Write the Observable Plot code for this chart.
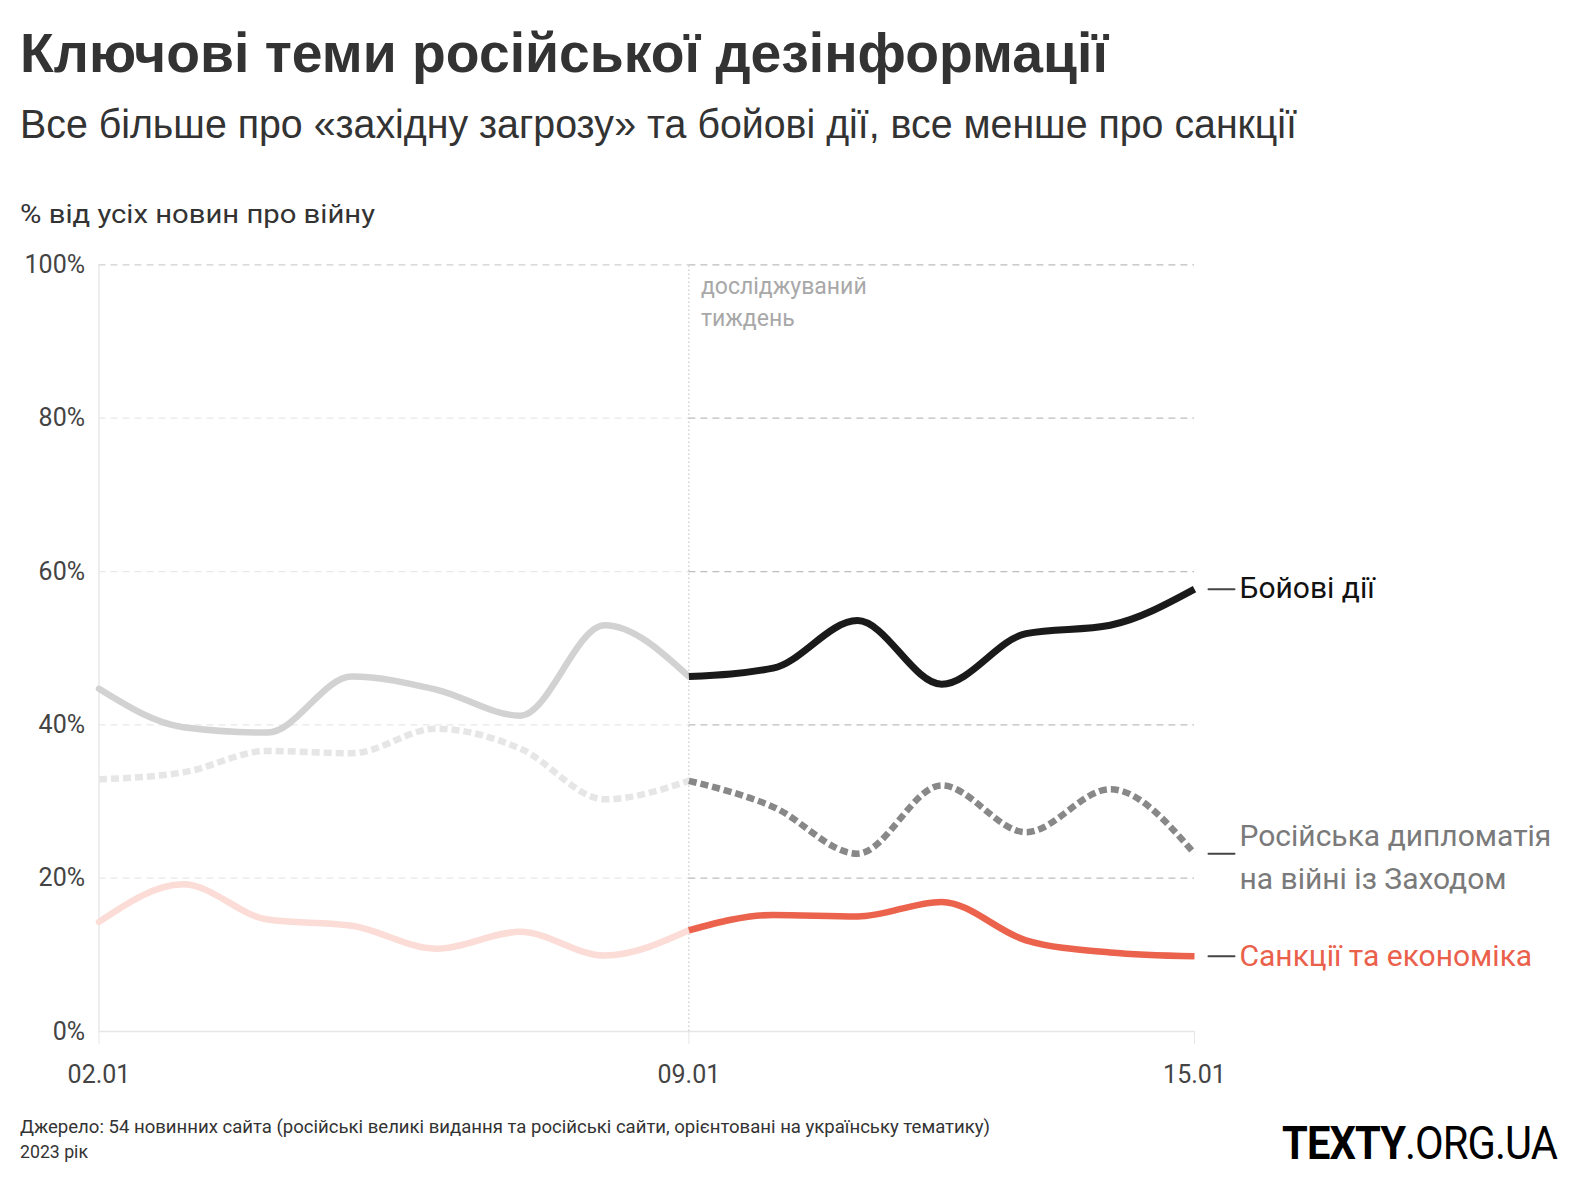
<!DOCTYPE html>
<html>
<head>
<meta charset="utf-8">
<script src="https://cdn.jsdelivr.net/npm/d3@7"></script>
<script src="https://cdn.jsdelivr.net/npm/@observablehq/plot@0.6"></script>
<style>
  html, body { margin: 0; padding: 0; background: #fff; }
  #page { position: relative; width: 1580px; height: 1184px; overflow: hidden; font-family: Roboto, "Noto Sans", sans-serif; }
  .t { position: absolute; left: 20px; white-space: nowrap; line-height: 1; transform-origin: 0 0; }
  #title { top: 25px; font-family: "Liberation Sans", Arial, sans-serif; font-size: 56px; font-weight: 700; color: #333; }
  #subtitle { top: 104px; font-family: "Liberation Sans", Arial, sans-serif; font-size: 41px; font-weight: 400; color: #333; }
  #ylabel { top: 201px; font-size: 26px; color: #333; }
  #src1 { top: 1118px; font-size: 18px; color: #333; }
  #src2 { top: 1143px; font-size: 18px; color: #333; }
  #logo { left: 1282px; top: 1120px; font-size: 46px; color: #000; letter-spacing: -1px; }
  #logo b { font-weight: 700; }
  #chart { position: absolute; left: 0; top: 230px; }
</style>
</head>
<body>
<div id="page">
  <div class="t" id="title">Ключові теми російської дезінформації</div>
  <div class="t" id="subtitle">Все більше про «західну загрозу» та бойові дії, все менше про санкції</div>
  <div class="t" id="ylabel">% від усіх новин про війну</div>
  <div id="chart"></div>
  <div class="t" id="src1">Джерело: 54 новинних сайта (російські великі видання та російські сайти, орієнтовані на українську тематику)</div>
  <div class="t" id="src2">2023 рік</div>
  <div class="t" id="logo"><b>TEXTY</b>.ORG.UA</div>
</div>
<script>
// ---- data ----
const dates = ["2023-01-02","2023-01-03","2023-01-04","2023-01-05","2023-01-06","2023-01-07","2023-01-08",
               "2023-01-09","2023-01-10","2023-01-11","2023-01-12","2023-01-13","2023-01-14","2023-01-15"];
const combat    = [44.7, 39.7, 39.0, 46.3, 44.6, 41.2, 53.0, 46.3, 47.4, 53.6, 45.3, 51.9, 53.0, 57.7];
const diplomacy = [32.9, 33.8, 36.6, 36.3, 39.5, 36.9, 30.3, 32.7, 29.3, 23.2, 32.1, 26.0, 31.6, 23.2];
const sanctions = [14.3, 19.2, 14.6, 13.8, 10.8, 13.0,  9.9, 13.2, 15.2, 15.0, 16.9, 11.9, 10.3,  9.8];
const studyStart = "2023-01-09";
const xTicks = ["2023-01-02", "2023-01-09", "2023-01-15"];
const yTicks = [0, 20, 40, 60, 80, 100];
const seriesNames = ["Бойові дії", "Російська дипломатія\nна війні із Заходом", "Санкції та економіка"];

// ---- build ----
const parse = d3.utcParse("%Y-%m-%d");
const D = dates.map(parse);
const d0 = D[0], dMid = parse(studyStart), dEnd = D[D.length - 1];
const rows = (vals, name) => vals.map((v, i) => ({date: D[i], value: v, series: name}));
const before = r => r.date <= dMid;
const after = r => r.date >= dMid;
const C = rows(combat, seriesNames[0]);
const P = rows(diplomacy, seriesNames[1]);
const S = rows(sanctions, seriesNames[2]);
const endC = C[C.length - 1], endP = P[P.length - 1], endS = S[S.length - 1];
const dashShape = {draw(context, l) { context.moveTo(0, 0); context.lineTo(0, -l); }};
const labelOpts = {x: "date", y: "value", text: "series", dx: 45, textAnchor: "start", lineAnchor: "middle", fontSize: 30, lineHeight: 1.42};

const plot = Plot.plot({
  width: 1580,
  height: 880,
  marginTop: 34.4,
  marginBottom: 79,
  marginLeft: 98.5,
  marginRight: 386,
  style: {fontFamily: "Roboto, 'Noto Sans', sans-serif", fontSize: "25px", color: "#444", background: "transparent"},
  x: {type: "utc", domain: [d0, dEnd], label: null},
  y: {domain: [0, 100], label: null},
  marks: [
    // grid lines: light in the earlier part, darker in the studied week
    Plot.ruleY(yTicks.filter(d => d > 0 && d < 100), {x1: () => d0, x2: () => dMid, stroke: "#e9e9e9", strokeDasharray: "7,5", strokeWidth: 1.3}),
    Plot.ruleY([100], {x1: () => d0, x2: () => dMid, stroke: "#d0d0d0", strokeDasharray: "7,5", strokeWidth: 1.3}),
    Plot.ruleY(yTicks.filter(d => d > 0), {x1: () => dMid, x2: () => dEnd, stroke: "#bdbdbd", strokeDasharray: "7,5", strokeWidth: 1.3}),
    Plot.ruleY([0], {stroke: "#e6e6e6", strokeWidth: 1.5}),
    Plot.ruleX([d0], {y1: 0, y2: 100, stroke: "#e8e8e8", strokeWidth: 1.5}),
    Plot.ruleX([dMid], {y1: 0, y2: 100, stroke: "#c8c8c8", strokeDasharray: "1.5,2.5", strokeWidth: 1.2}),
    Plot.axisX({ticks: xTicks.map(parse), tickFormat: d3.utcFormat("%d.%m"), tickSize: 13, tickPadding: 21, stroke: "#e6e6e6", fill: "#444", fontSize: 25, label: null}),
    Plot.axisY({ticks: yTicks, tickFormat: d => d + "%", tickSize: 0, tickPadding: 14, fill: "#444", fontSize: 25, label: null}),
    Plot.text([dMid], {x: d => d, y: () => 100, text: () => "досліджуваний\nтиждень", textAnchor: "start", lineAnchor: "top", dx: 12, dy: 6, fill: "#a8a8a8", fontSize: 23, lineHeight: 1.4}),
    // earlier period (faded)
    Plot.line(C.filter(before), {x: "date", y: "value", curve: "monotone-x", stroke: "#d2d2d2", strokeWidth: 6.5}),
    Plot.line(P.filter(before), {x: "date", y: "value", curve: "monotone-x", stroke: "#e6e6e6", strokeWidth: 6.5, strokeDasharray: "8,4", strokeLinecap: "butt"}),
    Plot.line(S.filter(before), {x: "date", y: "value", curve: "monotone-x", stroke: "#fbdcd6", strokeWidth: 6.5}),
    // studied week
    Plot.line(C.filter(after), {x: "date", y: "value", curve: "monotone-x", stroke: "#1a1a1a", strokeWidth: 7, strokeLinecap: "butt"}),
    Plot.line(P.filter(after), {x: "date", y: "value", curve: "monotone-x", stroke: "#888888", strokeWidth: 6.5, strokeDasharray: "8,4", strokeLinecap: "butt"}),
    Plot.line(S.filter(after), {x: "date", y: "value", curve: "monotone-x", stroke: "#ec634d", strokeWidth: 6.5, strokeLinecap: "butt"}),
    // end labels with leader dashes
    Plot.vector([endC, endP, endS], {x: "date", y: "value", length: 26, rotate: 90, anchor: "start", dx: 14, shape: dashShape, stroke: "#444", strokeWidth: 2}),
    Plot.text([endC], {...labelOpts, dy: -5, fill: "#111111"}),
    Plot.text([endP], {...labelOpts, dy: 0, fill: "#7a7a7a"}),
    Plot.text([endS], {...labelOpts, dy: -4, fill: "#ea604b"})
  ]
});
document.getElementById("chart").appendChild(plot);

// fit text widths to the reference layout
function fit(id, w) {
  const el = document.getElementById(id);
  const cw = el.getBoundingClientRect().width;
  el.style.transform = `scaleX(${w / cw})`;
}
fit("title", 1088);
fit("subtitle", 1277);
fit("ylabel", 355);
fit("src1", 970);
fit("src2", 68);
fit("logo", 275);
</script>
</body>
</html>
